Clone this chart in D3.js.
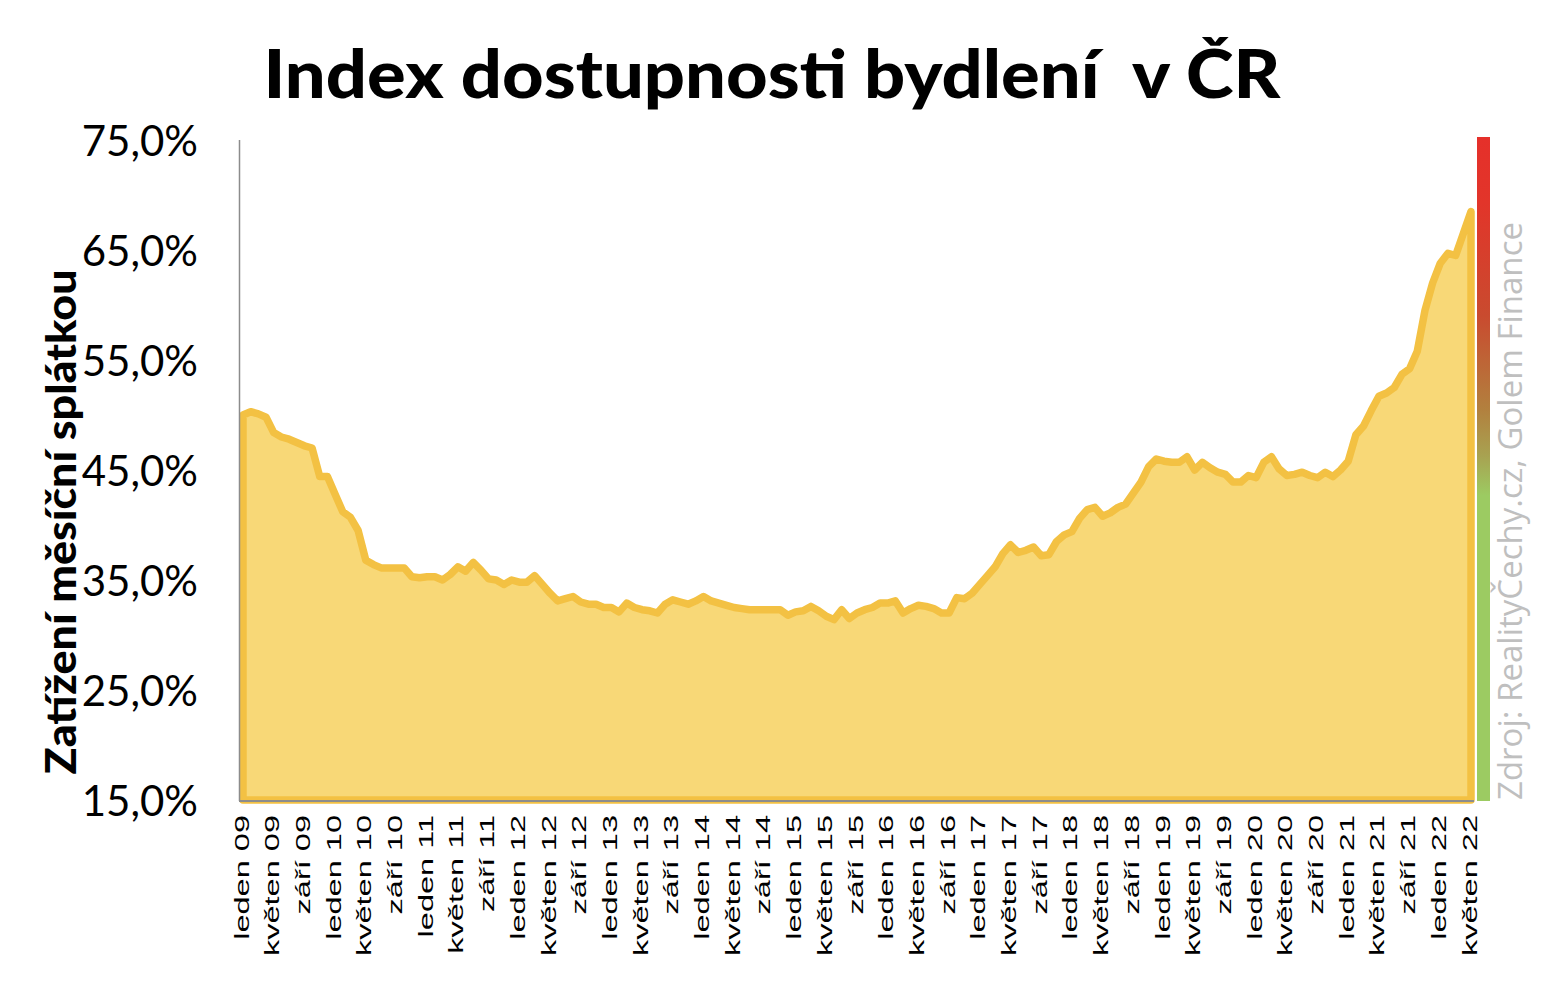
<!DOCTYPE html>
<html>
<head>
<meta charset="utf-8">
<script src="https://cdn.jsdelivr.net/npm/d3@7"></script>
<style>
  html, body { margin: 0; padding: 0; background: #ffffff; }
  svg { display: block; }
</style>
</head>
<body>
<svg id="chart" width="1562" height="986"></svg>
<script>
// ---- data ----
const monthNames = ["leden","únor","březen","duben","květen","červen","červenec","srpen","září","říjen","listopad","prosinec"];
const years = ["09","10","11","12","13","14","15","16","17","18","19","20","21","22"];
const values = [
  50.0,50.3,50.1,49.8,48.4,48.0,47.8,47.5,47.2,47.0,
  44.4,44.4,42.8,41.2,40.7,39.5,36.8,36.4,36.1,36.1,
  36.1,36.1,35.3,35.2,35.3,35.3,35.0,35.5,36.2,35.8,
  36.6,35.9,35.1,
  35.0,34.6,35.0,34.8,34.8,35.4,34.6,33.8,33.1,33.3,
  33.5,33.0,32.8,32.8,32.5,32.5,32.1,32.9,32.5,32.3,
  32.2,32.0,32.8,33.2,33.0,32.8,33.1,33.5,33.1,32.9,
  32.7,32.5,32.4,32.3,32.3,32.3,32.3,32.3,
  31.8,32.1,32.2,32.6,32.2,31.7,31.4,32.3,31.5,32.0,
  32.3,32.5,32.9,32.9,33.1,32.0,32.4,32.7,32.6,32.4,
  32.0,32.0,33.4,33.3,33.8,34.6,35.4,36.2,37.4,38.2,
  37.5,
  37.7,38.0,37.2,37.3,38.5,39.1,39.4,40.6,41.4,41.6,
  40.8,41.1,41.6,41.9,42.9,43.9,45.3,46.0,45.8,45.7,
  45.7,46.2,45.0,45.7,45.2,44.8,44.6,43.9,43.9,44.5,
  44.3,
  45.7,46.2,45.1,44.5,44.6,44.8,44.5,44.3,44.8,44.4,
  45.0,45.8,48.2,49.0,50.4,51.7,52.0,52.5,53.7,54.2,
  55.8,59.5,62.0,63.8,64.7,64.5,66.5,68.5
];
const categories = [];
years.forEach(y => monthNames.forEach(m => categories.push(m + " " + y)));
categories.length = values.length; // leden 09 .. květen 22
const yTicks = [15, 25, 35, 45, 55, 65, 75];
const titleText = "Index dostupnosti bydlení  v ČR";
const yAxisTitle = "Zatížení měsíční splátkou";
const sourceText = "Zdroj: RealityČechy.cz, Golem Finance";

const data = categories.map((c, i) => ({ cat: c, v: values[i] }));

// ---- chart ----
const svg = d3.select("#chart");
const x = d3.scalePoint().domain(categories).range([243, 1471]);
const y = d3.scaleLinear().domain([15, 75]).range([800, 140]);

// Title
svg.append("text")
  .attr("x", 772).attr("y", 98)
  .attr("text-anchor", "middle")
  .style("white-space", "pre")
  .attr("font-family", "Lato, 'Open Sans', sans-serif")
  .attr("font-weight", "900")
  .attr("font-size", 66)
  .attr("textLength", 1017)
  .attr("lengthAdjust", "spacingAndGlyphs")
  .attr("fill", "#000")
  .text(titleText);

// Gradient side bar
const defs = svg.append("defs");
const grad = defs.append("linearGradient").attr("id", "sideGrad")
  .attr("x1", 0).attr("y1", 0).attr("x2", 0).attr("y2", 1);
[[0, "#e5302a"], [0.10, "#e2352a"], [0.27, "#c94b2f"], [0.41, "#b2803e"], [0.48, "#a8a251"], [0.54, "#9ccb62"], [1, "#9ccb62"]]
  .forEach(([o, c]) => grad.append("stop").attr("offset", o).attr("stop-color", c));
svg.append("rect")
  .attr("x", 1477).attr("y", 137).attr("width", 13).attr("height", 664)
  .attr("fill", "url(#sideGrad)");

// Source text
svg.append("text")
  .attr("transform", "translate(1522,800) rotate(-90)")
  .attr("font-family", "'Open Sans', sans-serif")
  .attr("font-size", 32)
  .attr("textLength", 578)
  .attr("lengthAdjust", "spacingAndGlyphs")
  .attr("fill", "#bfbfbf")
  .text(sourceText);

// Area
const area = d3.area()
  .x(d => x(d.cat))
  .y0(y(15))
  .y1(d => y(d.v));
svg.append("path")
  .datum(data)
  .attr("d", d => area(d) + "Z")
  .attr("fill", "#f8d877")
  .attr("stroke", "#f3c143")
  .attr("stroke-width", 7.5)
  .attr("stroke-linejoin", "round");

// Axis lines
svg.append("line").attr("x1", 239.5).attr("x2", 239.5).attr("y1", 140).attr("y2", 801)
  .attr("stroke", "#8c8c8c").attr("stroke-width", 1.5);
svg.append("line").attr("x1", 239).attr("x2", 1474).attr("y1", 801).attr("y2", 801)
  .attr("stroke", "#8c8c8c").attr("stroke-width", 2);

// Y axis tick labels
const yAxis = d3.axisLeft(y).tickValues(yTicks).tickSize(0).tickPadding(0)
  .tickFormat(d => d3.format(".1f")(d).replace(".", ",") + "%");
const yg = svg.append("g").attr("transform", "translate(198,0)").call(yAxis);
yg.select(".domain").remove();
yg.selectAll("text")
  .attr("font-family", "Lato, 'Open Sans', sans-serif")
  .attr("font-size", 42)
  .attr("fill", "#000")
  .attr("dy", "0.36em");

// Y axis title
svg.append("text")
  .attr("transform", "translate(76,522) rotate(-90)")
  .attr("text-anchor", "middle")
  .attr("font-family", "Lato, 'Open Sans', sans-serif")
  .attr("font-weight", "900")
  .attr("font-size", 42)
  .attr("textLength", 505)
  .attr("lengthAdjust", "spacingAndGlyphs")
  .attr("fill", "#000")
  .text(yAxisTitle);

// X axis labels (every 4th month)
const shown = categories.filter((c, i) => i % 4 === 0);
const xAxis = d3.axisBottom(x).tickValues(shown).tickSize(0).tickPadding(0);
const xg = svg.append("g").attr("transform", "translate(0,815)").call(xAxis);
xg.select(".domain").remove();
xg.selectAll("text")
  .attr("font-family", "'Liberation Sans', Arial, sans-serif")
  .attr("font-size", 21)
  .attr("fill", "#000")
  .attr("text-anchor", "end")
  .attr("dy", null)
  .attr("y", 0)
  .attr("x", 0)
  .attr("transform", "translate(-3,0) rotate(-90) scale(1.55,1) translate(0,8)");
</script>
</body>
</html>
